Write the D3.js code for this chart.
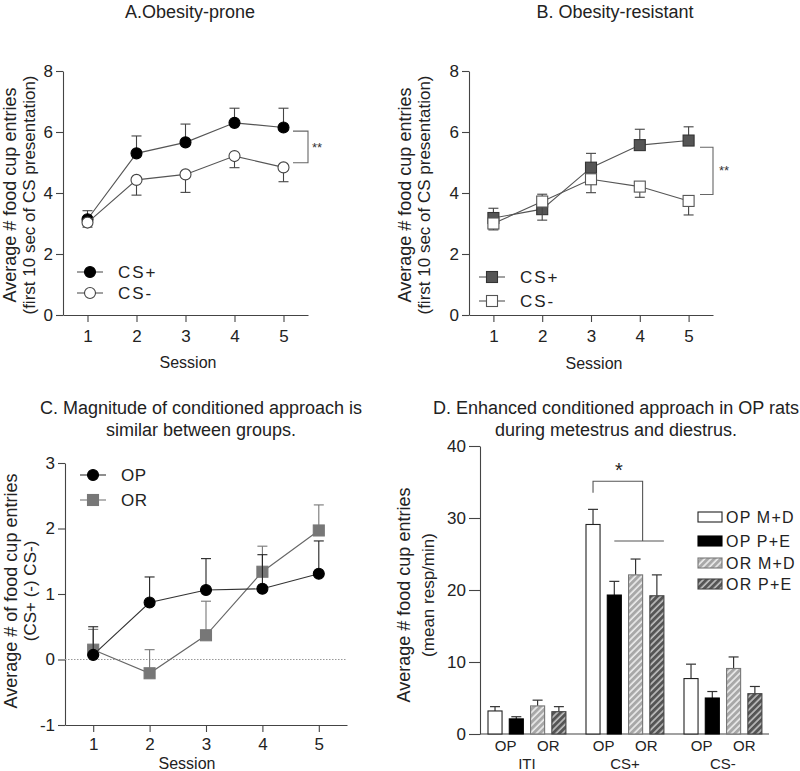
<!DOCTYPE html>
<html>
<head>
<meta charset="utf-8">
<script src="https://cdn.jsdelivr.net/npm/d3@7"></script>
<style>
  body { margin: 0; background: #fff; }
  svg { display: block; font-family: "Liberation Sans", Arial, Helvetica, sans-serif; }
  .axis path, .axis line { stroke: #444; stroke-width: 1.1; }
  .axis text { fill: #222; font-size: 17px; font-family: "Liberation Sans", Arial, sans-serif; }
</style>
</head>
<body>
<svg id="chart" width="800" height="771"></svg>
<script>
// ---------- DATA ----------
const sessions = [1, 2, 3, 4, 5];

// Panel A: Obesity-prone
const aCSplus     = [3.14, 5.30, 5.66, 6.30, 6.15];
const aCSplusTop  = [3.42, 5.87, 6.26, 6.78, 6.78];
const aCSminus    = [3.03, 4.43, 4.61, 5.21, 4.84];
const aCSminusBot = [2.88, 3.93, 4.02, 4.83, 4.37];

// Panel B: Obesity-resistant
const bCSplus     = [3.18, 3.47, 4.83, 5.57, 5.72];
const bCSplusTop  = [3.50, 3.96, 5.30, 6.09, 6.17];
const bCSminus    = [3.00, 3.72, 4.45, 4.21, 3.74];
const bCSminusBot = [2.79, 3.11, 4.01, 3.86, 3.28];

// Panel C: difference scores
const cOP     = [0.07, 0.87, 1.06, 1.08, 1.31];
const cOPTop  = [0.50, 1.26, 1.54, 1.60, 1.81];
const cOR     = [0.15, -0.21, 0.37, 1.34, 1.97];
const cORTop  = [0.46, 0.15, 0.89, 1.73, 2.36];

// Panel D: bars
const dGroups  = ["ITI", "CS+", "CS-"];
const dSeries  = ["OP M+D", "OP P+E", "OR M+D", "OR P+E"];
const dValues  = [[3.2, 2.1, 3.9, 3.1], [29.1, 19.3, 22.1, 19.2], [7.7, 5.0, 9.1, 5.6]];
const dErrTop  = [[3.8, 2.4, 4.7, 3.8], [31.2, 21.2, 24.3, 22.1], [9.7, 5.9, 10.7, 6.6]];
const dSubLabels = ["OP", "OR"];

const yTicksAB = [0, 2, 4, 6, 8];
const yTicksC  = [-1, 0, 1, 2, 3];
const yTicksD  = [0, 10, 20, 30, 40];

// ---------- DRAW ----------
const svg = d3.select("#chart");
const FONT = '"Liberation Sans", Arial, sans-serif';
const fmt = d => String(d);

const defs = svg.append("defs");
function hatch(id, bg, fg) {
  const p = defs.append("pattern").attr("id", id)
    .attr("patternUnits", "userSpaceOnUse").attr("width", 4.6).attr("height", 4.6)
    .attr("patternTransform", "rotate(45)");
  p.append("rect").attr("width", 4.6).attr("height", 4.6).attr("fill", bg);
  p.append("line").attr("x1", 1).attr("y1", -1).attr("x2", 1).attr("y2", 6)
    .attr("stroke", fg).attr("stroke-width", 1.5);
}
hatch("hatchLight", "#a8a8a8", "#f2f2f2");
hatch("hatchDark", "#555", "#c8c8c8");

function title(lines, cx, y0, dy) {
  const t = svg.append("text").attr("text-anchor", "middle")
    .attr("font-size", 18).attr("fill", "#222").attr("font-family", FONT);
  lines.forEach((l, i) => t.append("tspan").attr("x", cx).attr("y", y0 + i * dy).text(l));
}
function yLabel(lines, xs, cy, sizes) {
  lines.forEach((l, i) => {
    svg.append("text").attr("transform", `translate(${xs[i]},${cy}) rotate(-90)`)
      .attr("text-anchor", "middle").attr("dominant-baseline", "central")
      .attr("font-size", sizes[i]).attr("fill", "#222").attr("font-family", FONT).text(l);
  });
}

function linePanel(cfg) {
  const x = d3.scaleLinear().domain([0.5, 5.5]).range(cfg.xr);
  const y = d3.scaleLinear().domain(cfg.yd).range(cfg.yr);
  const g = svg.append("g");
  g.append("g").attr("class", "axis").attr("transform", `translate(${cfg.xr[0]},0)`)
    .call(d3.axisLeft(y).tickValues(cfg.yticks).tickSize(7).tickSizeOuter(0).tickPadding(3).tickFormat(fmt));
  g.append("g").attr("class", "axis").attr("transform", `translate(0,${cfg.yr[0]})`)
    .call(d3.axisBottom(x).tickValues(sessions).tickSize(7).tickSizeOuter(0).tickPadding(cfg.xpad).tickFormat(fmt));
  return { x, y, g };
}

function series(p, vals, errs, opt) {
  const { x, y, g } = p;
  sessions.forEach((s, i) => {
    g.append("line").attr("x1", x(s)).attr("x2", x(s)).attr("y1", y(vals[i])).attr("y2", y(errs[i]))
      .attr("stroke", opt.err).attr("stroke-width", 1.1);
    g.append("line").attr("x1", x(s) - 5).attr("x2", x(s) + 5).attr("y1", y(errs[i])).attr("y2", y(errs[i]))
      .attr("stroke", opt.err).attr("stroke-width", 1.1);
  });
  g.append("path").datum(vals)
    .attr("d", d3.line().x((d, i) => x(sessions[i])).y(d => y(d)))
    .attr("fill", "none").attr("stroke", opt.line).attr("stroke-width", 1.1);
  marker(g, sessions.map((s, i) => [x(s), y(vals[i])]), opt);
}
function marker(g, pts, opt) {
  pts.forEach(([px, py]) => {
    if (opt.shape === "circle") {
      g.append("circle").attr("cx", px).attr("cy", py).attr("r", 5.5)
        .attr("fill", opt.fill).attr("stroke", opt.stroke).attr("stroke-width", 1.1);
    } else {
      g.append("rect").attr("x", px - 5.5).attr("y", py - 5.5).attr("width", 11).attr("height", 11)
        .attr("fill", opt.fill).attr("stroke", opt.stroke).attr("stroke-width", 1.1);
    }
  });
}
function legendItem(g, lx, ly, label, opt, spacing) {
  g.append("line").attr("x1", lx - 13).attr("x2", lx + 13).attr("y1", ly).attr("y2", ly)
    .attr("stroke", opt.line).attr("stroke-width", 1.1);
  marker(g, [[lx, ly]], opt);
  g.append("text").attr("x", lx + 28).attr("y", ly).attr("dominant-baseline", "central")
    .attr("font-size", 17).attr("letter-spacing", spacing).attr("fill", "#222")
    .attr("font-family", FONT).text(label);
}
function bracket(g, x1, x2, ya, yb, label, lx, ly) {
  g.append("path").attr("d", `M${x1},${ya}H${x2}V${yb}H${x1}`)
    .attr("fill", "none").attr("stroke", "#666").attr("stroke-width", 1.1);
  g.append("text").attr("x", lx).attr("y", ly).attr("dominant-baseline", "central")
    .attr("font-size", 13).attr("fill", "#333").attr("font-family", FONT).text(label);
}

// ---- Panel A ----
title(["A.Obesity-prone"], 190, 18, 0);
const pA = linePanel({ xr: [63, 308], yr: [315, 71], yd: [0, 8], yticks: yTicksAB, xpad: 8 });
series(pA, aCSplus, aCSplusTop, { shape: "circle", fill: "#000", stroke: "#000", line: "#555", err: "#444" });
series(pA, aCSminus, aCSminusBot, { shape: "circle", fill: "#fff", stroke: "#444", line: "#555", err: "#444" });
legendItem(pA.g, 90, 272, "CS+", { shape: "circle", fill: "#000", stroke: "#000", line: "#555" }, 2);
legendItem(pA.g, 90, 293, "CS-", { shape: "circle", fill: "#fff", stroke: "#444", line: "#555" }, 2);
bracket(pA.g, 293, 308, pA.y(6.03), pA.y(4.99), "**", 312, 147);
svg.append("text").attr("x", 188).attr("y", 368).attr("text-anchor", "middle").attr("font-size", 16)
  .attr("fill", "#222").attr("font-family", FONT).text("Session");
yLabel(["Average # food cup entries", "(first 10 sec of CS presentation)"], [10, 29], 195, [18, 17]);

// ---- Panel B ----
title(["B. Obesity-resistant"], 615, 18, 0);
const pB = linePanel({ xr: [469, 713], yr: [315, 71], yd: [0, 8], yticks: yTicksAB, xpad: 8 });
series(pB, bCSplus, bCSplusTop, { shape: "rect", fill: "#555", stroke: "#333", line: "#555", err: "#444" });
series(pB, bCSminus, bCSminusBot, { shape: "rect", fill: "#fff", stroke: "#555", line: "#555", err: "#444" });
legendItem(pB.g, 492, 277, "CS+", { shape: "rect", fill: "#555", stroke: "#333", line: "#555" }, 2);
legendItem(pB.g, 492, 301, "CS-", { shape: "rect", fill: "#fff", stroke: "#555", line: "#555" }, 2);
bracket(pB.g, 700, 713, pB.y(5.5), pB.y(3.95), "**", 719, 170);
svg.append("text").attr("x", 594).attr("y", 369).attr("text-anchor", "middle").attr("font-size", 16)
  .attr("fill", "#222").attr("font-family", FONT).text("Session");
yLabel(["Average # food cup entries", "(first 10 sec of CS presentation)"], [405, 424], 195, [18, 17]);

// ---- Panel C ----
title(["C. Magnitude of conditioned approach is", "similar between groups."], 201, 414, 22);
const pC = linePanel({ xr: [65, 347], yr: [725, 463], yd: [-1, 3], yticks: yTicksC, xpad: 6 });
pC.g.append("line").attr("x1", 65).attr("x2", 347).attr("y1", pC.y(0)).attr("y2", pC.y(0))
  .attr("stroke", "#999").attr("stroke-width", 1).attr("stroke-dasharray", "1.5,1.5");
series(pC, cOR, cORTop, { shape: "rect", fill: "#777", stroke: "#777", line: "#666", err: "#777" });
series(pC, cOP, cOPTop, { shape: "circle", fill: "#000", stroke: "#000", line: "#333", err: "#222" });
legendItem(pC.g, 93, 475, "OP", { shape: "circle", fill: "#000", stroke: "#000", line: "#333" }, 0.5);
legendItem(pC.g, 93, 500, "OR", { shape: "rect", fill: "#777", stroke: "#777", line: "#777" }, 0.5);
svg.append("text").attr("x", 187).attr("y", 769).attr("text-anchor", "middle").attr("font-size", 16)
  .attr("fill", "#222").attr("font-family", FONT).text("Session");
yLabel(["Average # of food cup entries", "(CS+ (-) CS-)"], [11, 30], 591, [18, 17]);

// ---- Panel D ----
title(["D. Enhanced conditioned approach in OP rats", "during metestrus and diestrus."], 616, 414, 22);
const yD = d3.scaleLinear().domain([0, 40]).range([734, 446]);
const xG = d3.scaleBand().domain(dGroups).range([477.5, 771.5]);
const xS = d3.scaleBand().domain(dSeries).range([10.5, 88.4]).paddingInner(0.34);
const gD = svg.append("g");
gD.append("g").attr("class", "axis").attr("transform", "translate(480,0)")
  .call(d3.axisLeft(yD).tickValues(yTicksD).tickSize(11).tickSizeOuter(0).tickPadding(3).tickFormat(fmt));
gD.append("line").attr("x1", 480).attr("x2", 769).attr("y1", 734).attr("y2", 734)
  .attr("stroke", "#444").attr("stroke-width", 1.1);

const fills = ["#fff", "#000", "url(#hatchLight)", "url(#hatchDark)"];
const strokes = ["#222", "#000", "#777", "#444"];
dGroups.forEach((grp, gi) => {
  dSeries.forEach((s, si) => {
    const bx = xG(grp) + xS(s), bw = xS.bandwidth();
    const v = dValues[gi][si], e = dErrTop[gi][si];
    const cx = bx + bw / 2;
    gD.append("line").attr("x1", cx).attr("x2", cx).attr("y1", yD(v)).attr("y2", yD(e))
      .attr("stroke", "#333").attr("stroke-width", 1.2);
    gD.append("line").attr("x1", cx - 5).attr("x2", cx + 5).attr("y1", yD(e)).attr("y2", yD(e))
      .attr("stroke", "#333").attr("stroke-width", 1.2);
    gD.append("rect").attr("x", bx).attr("y", yD(v)).attr("width", bw).attr("height", yD(0) - yD(v))
      .attr("fill", fills[si]).attr("stroke", strokes[si]).attr("stroke-width", 1.1);
  });
  [0, 2].forEach((si, k) => {
    const cx = xG(grp) + (xS(dSeries[si]) + xS(dSeries[si + 1]) + xS.bandwidth()) / 2;
    gD.append("text").attr("x", cx).attr("y", 751).attr("text-anchor", "middle").attr("font-size", 15)
      .attr("fill", "#222").attr("font-family", FONT).text(dSubLabels[k]);
  });
  const gc = xG(grp) + (xS(dSeries[0]) + xS(dSeries[3]) + xS.bandwidth()) / 2;
  gD.append("text").attr("x", gc).attr("y", 769).attr("text-anchor", "middle").attr("font-size", 15)
    .attr("fill", "#222").attr("font-family", FONT).text(grp);
});
{
  const c0 = xG("CS+") + xS(dSeries[0]) + xS.bandwidth() / 2;
  const xR = xG("CS+") + xS(dSeries[2]) + xS.bandwidth();
  const xL2 = xG("CS+") + xS(dSeries[1]) + xS.bandwidth() / 2;
  const xR2 = xG("CS+") + xS(dSeries[3]) + xS.bandwidth();
  gD.append("path").attr("d", `M${c0},${yD(33.5)}V${yD(35.1)}H${xR}V${yD(26.8)}`)
    .attr("fill", "none").attr("stroke", "#555").attr("stroke-width", 1.1);
  gD.append("line").attr("x1", xL2).attr("x2", xR2).attr("y1", yD(26.8)).attr("y2", yD(26.8))
    .attr("stroke", "#555").attr("stroke-width", 1.1);
  gD.append("text").attr("x", 619).attr("y", 477).attr("text-anchor", "middle").attr("font-size", 20)
    .attr("fill", "#222").attr("font-family", FONT).text("*");
}
const legY = [517, 541, 563, 584];
dSeries.forEach((s, si) => {
  gD.append("rect").attr("x", 698).attr("y", legY[si] - 5).attr("width", 24).attr("height", 10)
    .attr("fill", fills[si]).attr("stroke", strokes[si]).attr("stroke-width", 1.1);
  gD.append("text").attr("x", 726).attr("y", legY[si]).attr("dominant-baseline", "central")
    .attr("font-size", 16).attr("letter-spacing", 1.2).attr("fill", "#222").attr("font-family", FONT).text(s);
});
yLabel(["Average # food cup entries", "(mean resp/min)"], [404, 428], 595, [18, 17]);
</script>
</body>
</html>
